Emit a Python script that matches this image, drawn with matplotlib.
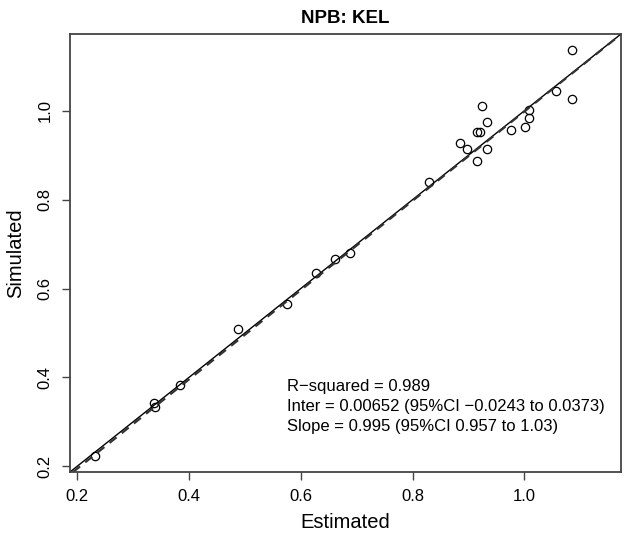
import numpy as np
import matplotlib
matplotlib.use("Agg")
import matplotlib.pyplot as plt

plt.rcParams['font.family'] = ['Liberation Sans', 'DejaVu Sans']

# estimated vs simulated values
estimated = [0.232, 0.338, 0.339, 0.384, 0.487, 0.575, 0.627, 0.662, 0.688,
             0.830, 0.884, 0.898, 0.916, 0.916, 0.920, 0.924, 0.934, 0.934,
             0.976, 1.001, 1.008, 1.008, 1.056, 1.086, 1.086]
simulated = [0.224, 0.342, 0.334, 0.382, 0.509, 0.566, 0.635, 0.667, 0.681,
             0.839, 0.928, 0.914, 0.887, 0.952, 0.952, 1.012, 0.974, 0.914,
             0.957, 0.964, 1.002, 0.983, 1.045, 1.136, 1.027]

inter = 0.00652
slope = 0.995
stats_text = ["R\u2212squared = 0.989",
              "Inter = 0.00652 (95%CI \u22120.0243 to 0.0373)",
              "Slope = 0.995 (95%CI 0.957 to 1.03)"]
ticks = [0.2, 0.4, 0.6, 0.8, 1.0]

fig = plt.figure(figsize=(6.29, 5.39), dpi=100)
ax = fig.add_axes([70/629, 1 - 472/539, (621-70)/629, (472-34)/539])

lim = (0.187, 1.173)
ax.set_xlim(lim)
ax.set_ylim(lim)

ax.plot(estimated, simulated, 'o', mfc='none', mec='black', ms=6, mew=0.9)
ax.axline((0, 0), slope=1, color='black', lw=1.0)
# fitted line: estimated = inter + slope * simulated
ax.axline((inter, 0), slope=1/slope, color='#333333', lw=1.6, dashes=(4, 3))

ax.set_xticks(ticks)
ax.set_yticks(ticks)
ax.set_xticklabels([f"{t:.1f}" for t in ticks])
ax.set_yticklabels([f"{t:.1f}" for t in ticks], rotation=90, va='center')
ax.tick_params(direction='out', length=5.5, width=1.0, color='#444444',
               labelsize=12, pad=7)
for s in ax.spines.values():
    s.set_color('#444444')
    s.set_linewidth(1.3)

ax.set_xlabel("Estimated", fontsize=14.5, labelpad=6)
ax.set_ylabel("Simulated", fontsize=14.5, labelpad=9)
ax.set_title("NPB: KEL", fontsize=13.5, fontweight='bold', pad=8)

for i, line in enumerate(stats_text):
    ax.text(0.394, 0.196 - i * 0.0457, line, transform=ax.transAxes,
            fontsize=12, va='center', ha='left')

fig.savefig("out.png", dpi=100)
